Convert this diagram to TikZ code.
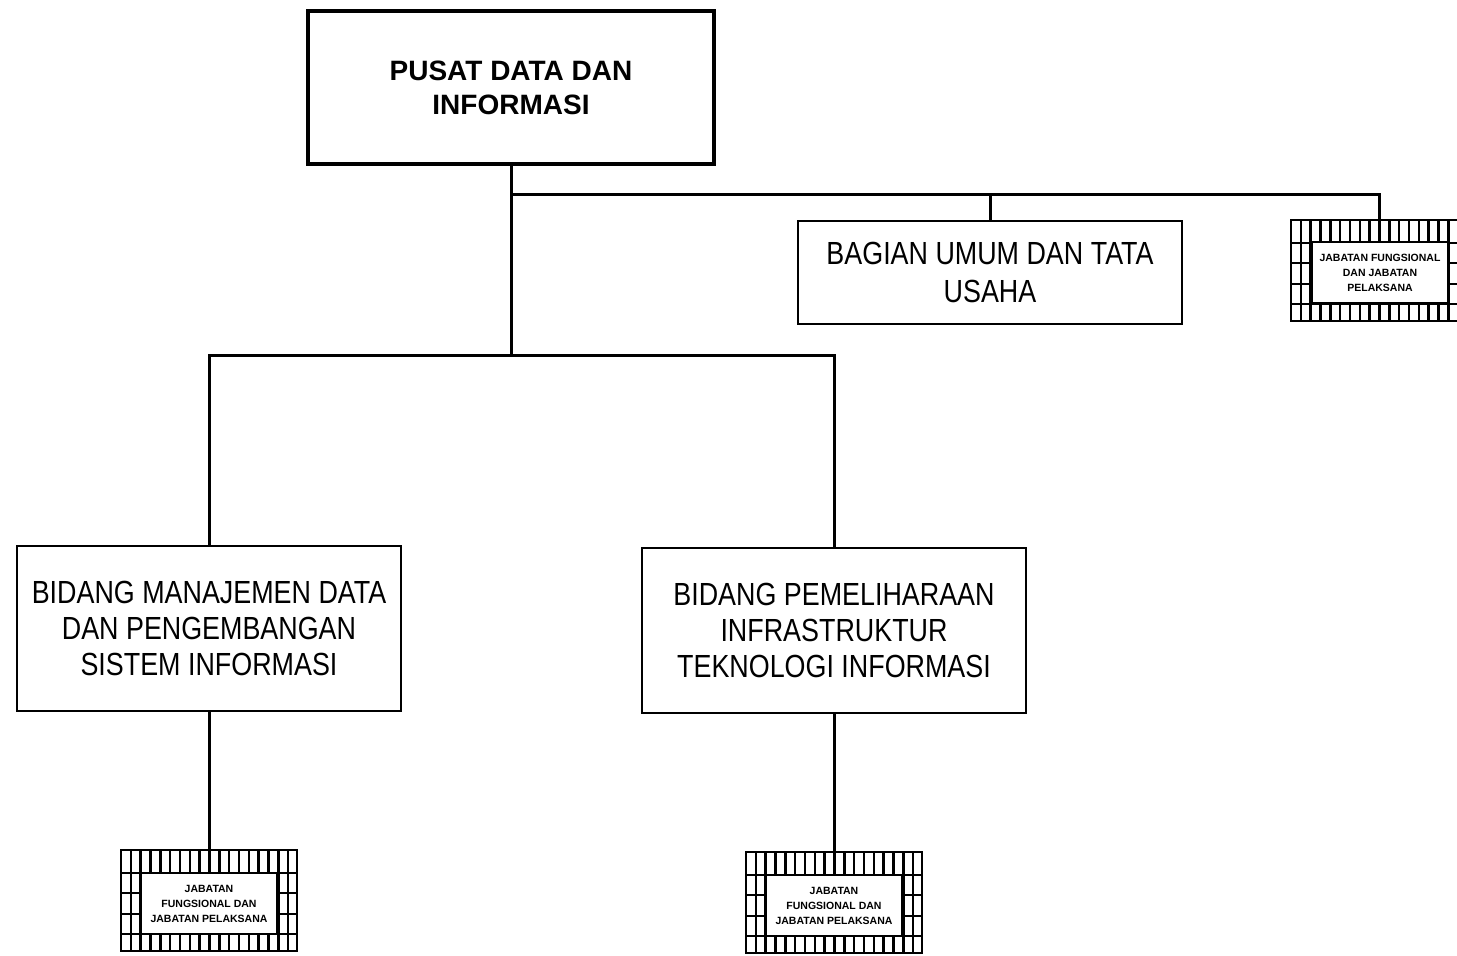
\documentclass[tikz,border=0pt]{standalone}
\usepackage{fontspec}
\setmainfont{Liberation Sans}
\newfontfamily\narrowfont[FakeStretch=0.84]{Liberation Sans}

\tikzset{
  headbox/.style={draw, line width=4pt, minimum width=406, minimum height=153,
    align=center, font=\bfseries\fontsize{28}{34}\selectfont},
  unitbox/.style={draw, line width=2pt, minimum width=384,
    align=center, font=\narrowfont\fontsize{32}{36}\selectfont},
  jfbox/.style={draw, line width=2.5pt, minimum width=176, minimum height=101,
    inner sep=0pt,
    path picture={
      \foreach \i in {1,...,17}
        \draw[line width=2.5pt] ([xshift=\i*9.83pt]path picture bounding box.north west)
          -- ([xshift=\i*9.83pt]path picture bounding box.south west);
      \foreach \j in {23,43,64,84}
        \draw[line width=2.5pt] ([yshift=-\j*1pt]path picture bounding box.north west)
          -- ([yshift=-\j*1pt]path picture bounding box.north east);
    }},
  jftext/.style={draw, fill=white, line width=2.5pt, minimum width=137,
    minimum height=61, inner sep=0pt, align=center,
    font=\bfseries\fontsize{10.5}{15}\selectfont},
  conn/.style={line width=3pt}
}

\begin{document}
\begin{tikzpicture}[x=1pt,y=-1pt]
\useasboundingbox (0,0) rectangle (1457,956);

% kepala pusat
\node[headbox] (pusdatin) at (511,87.5) {PUSAT DATA DAN\\INFORMASI};

% staf
\node[unitbox, minimum height=103, font=\narrowfont\fontsize{32}{38}\selectfont]
  (bagum) at (990,272.5) {BAGIAN UMUM DAN TATA\\USAHA};
\node[jfbox] (jfa) at (1379,270.5) {};
\node[jftext] (jfa-txt) at (1380,272.5) {JABATAN FUNGSIONAL\\DAN JABATAN\\PELAKSANA};

% bidang
\node[unitbox, minimum height=165] (bidmdp) at (209,628.5)
  {BIDANG MANAJEMEN DATA\\DAN PENGEMBANGAN\\SISTEM INFORMASI};
\node[unitbox, minimum height=165] (bidpit) at (834,630.5)
  {BIDANG PEMELIHARAAN\\INFRASTRUKTUR\\TEKNOLOGI INFORMASI};

\node[jfbox] (jfb) at (209,900.5) {};
\node[jftext] (jfb-txt) at (209,903.5) {JABATAN\\FUNGSIONAL DAN\\JABATAN PELAKSANA};
\node[jfbox] (jfc) at (834,902.5) {};
\node[jftext] (jfc-txt) at (834,905.5) {JABATAN\\FUNGSIONAL DAN\\JABATAN PELAKSANA};

% garis
\coordinate (bus) at (511,194);
\coordinate (split) at (511,355);
\draw[conn] (pusdatin.south) -- (split);
\draw[conn] (bus) -| (jfa.north);
\draw[conn] (bus -| bagum.north) -- (bagum.north);
\draw[conn] (bidmdp.north) |- (split) -| (bidpit.north);
\draw[conn] (bidmdp.south) -- (jfb.north);
\draw[conn] (bidpit.south) -- (jfc.north);
\end{tikzpicture}
\end{document}
